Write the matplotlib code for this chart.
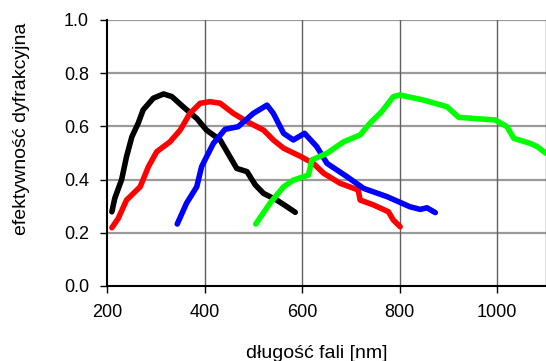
import matplotlib
matplotlib.use("Agg")
import matplotlib.pyplot as plt

plt.rcParams['font.family'] = ['Liberation Sans', 'DejaVu Sans']

black_x = [210, 216, 230, 240, 251, 264, 274, 295, 316, 333, 356, 384, 404, 432, 452, 466, 487, 504, 521, 548, 569, 586]
black_y = [0.279, 0.33, 0.40, 0.486, 0.561, 0.612, 0.662, 0.706, 0.722, 0.712, 0.674, 0.630, 0.586, 0.549, 0.486, 0.442, 0.430, 0.380, 0.348, 0.323, 0.298, 0.277]

red_x = [210, 223, 240, 268, 285, 302, 329, 350, 370, 391, 411, 432, 459, 487, 521, 541, 562, 596, 623, 644, 678, 715, 719, 746, 777, 787, 801]
red_y = [0.219, 0.254, 0.323, 0.373, 0.449, 0.505, 0.542, 0.586, 0.649, 0.687, 0.693, 0.687, 0.649, 0.618, 0.586, 0.549, 0.518, 0.488, 0.461, 0.424, 0.386, 0.361, 0.323, 0.305, 0.279, 0.248, 0.223]

blue_x = [344, 363, 384, 394, 418, 442, 469, 500, 528, 541, 562, 582, 605, 630, 651, 692, 726, 774, 821, 842, 856, 873]
blue_y = [0.233, 0.311, 0.373, 0.449, 0.536, 0.589, 0.599, 0.649, 0.680, 0.649, 0.574, 0.549, 0.574, 0.524, 0.461, 0.411, 0.367, 0.336, 0.298, 0.288, 0.294, 0.276]

green_x = [505, 534, 562, 582, 613, 620, 651, 685, 719, 739, 763, 787, 800, 849, 897, 921, 951, 996, 1020, 1034, 1068, 1082, 1100]
green_y = [0.233, 0.311, 0.373, 0.398, 0.417, 0.474, 0.499, 0.542, 0.568, 0.612, 0.655, 0.712, 0.718, 0.699, 0.674, 0.634, 0.630, 0.624, 0.599, 0.555, 0.536, 0.524, 0.499]

x_ticks = [200, 400, 600, 800, 1000]
y_ticks = [0.0, 0.2, 0.4, 0.6, 0.8, 1.0]

fig = plt.figure(figsize=(5.46, 3.61), dpi=100)
ax = fig.add_axes([107/546, 75/361, 439/546, 266/361])

for yv in y_ticks[1:]:
    ax.axhline(yv, color='#9a9a9a', lw=1.6, zorder=1)
for xv in x_ticks[1:] + [1100]:
    ax.axvline(xv, color='#606060', lw=1.0, zorder=1)

lw = 4.0
for xs, ys, c in [(black_x, black_y, 'black'), (red_x, red_y, 'red'),
                  (blue_x, blue_y, 'blue'), (green_x, green_y, '#00ff00')]:
    ax.plot(xs, ys, color=c, lw=lw, solid_capstyle='round', solid_joinstyle='round', zorder=3)

ax.set_xlim(200, 1100)
ax.set_ylim(0, 1.0)
ax.set_xticks(x_ticks)
ax.set_yticks(y_ticks)
ax.set_yticklabels([f"{v:.1f}" for v in y_ticks])
ax.tick_params(axis='both', direction='out', length=5, width=1, labelsize=13, pad=8, color='black')

for s in ['top', 'right']:
    ax.spines[s].set_visible(False)
for s in ['left', 'bottom']:
    ax.spines[s].set_linewidth(1.5)
    ax.spines[s].set_color('black')

ax.set_xlabel('długość fali [nm]', fontsize=14, va='center')
ax.set_ylabel('efektywność dyfrakcyjna', fontsize=14, va='center')
ax.xaxis.set_label_coords(0.478, -0.252)
ax.yaxis.set_label_coords(-0.194, 0.59)

fig.savefig('out.png', dpi=100)
